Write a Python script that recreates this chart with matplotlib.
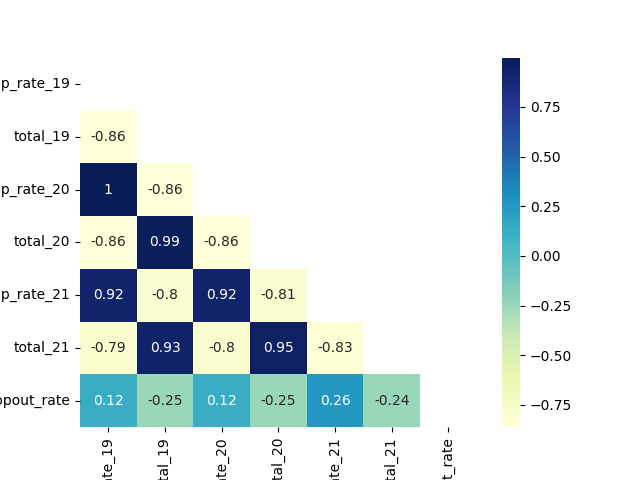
import numpy as np
import pandas as pd
import matplotlib
matplotlib.use("Agg")
import matplotlib.pyplot as plt
import seaborn as sns

labels = ["drop_rate_19", "total_19", "drop_rate_20", "total_20",
          "drop_rate_21", "total_21", "dropout_rate"]

# lower triangle of the correlation matrix, row by row (diagonal excluded)
row_total_19 = [-0.857]
row_drop_rate_20 = [0.998, -0.862]
row_total_20 = [-0.858, 0.99, -0.862]
row_drop_rate_21 = [0.92, -0.8, 0.92, -0.81]
row_total_21 = [-0.79, 0.93, -0.8, 0.95, -0.83]
row_dropout_rate = [0.12, -0.25, 0.12, -0.25, 0.26, -0.24]

lower_rows = [row_total_19, row_drop_rate_20, row_total_20,
              row_drop_rate_21, row_total_21, row_dropout_rate]

n = len(labels)
corr = np.eye(n)
for i, row in enumerate(lower_rows, start=1):
    for j, v in enumerate(row):
        corr[i, j] = v
        corr[j, i] = v
corr = pd.DataFrame(corr, index=labels, columns=labels)

# hide the diagonal and upper triangle
mask = np.triu(np.ones_like(corr, dtype=bool))

plt.figure(figsize=(6.4, 4.8), dpi=100)
sns.heatmap(corr, mask=mask, annot=True, cmap="YlGnBu")
plt.savefig("out.png")
plt.close()
